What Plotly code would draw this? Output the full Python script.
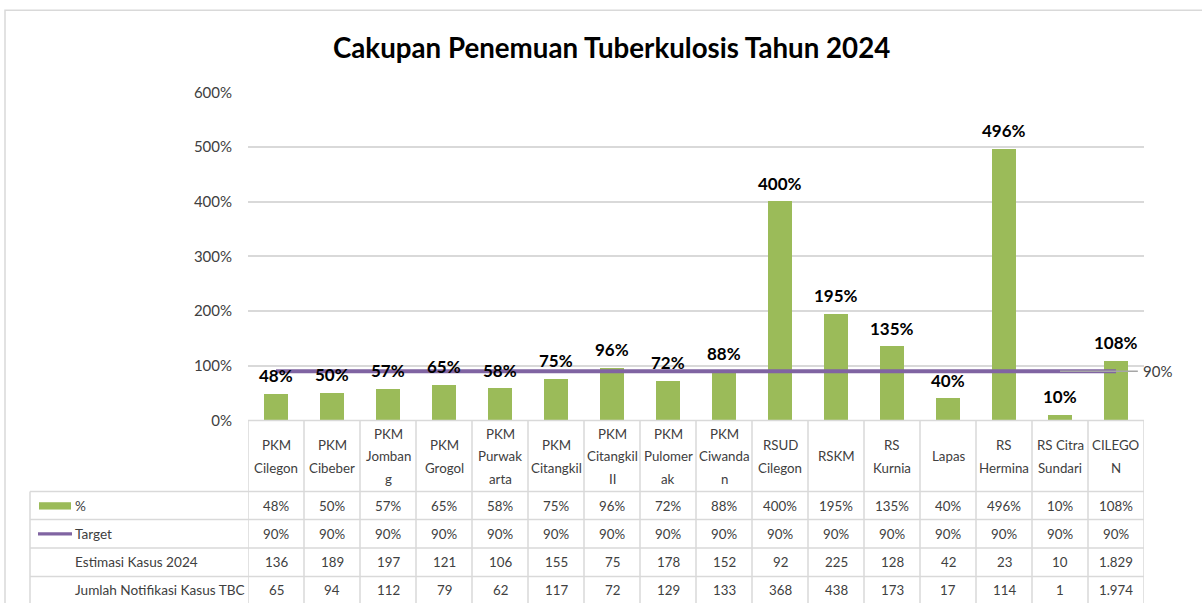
import plotly.graph_objects as go

# ---------------- data ----------------
categories = [
    ["PKM", "Cilegon"], ["PKM", "Cibeber"], ["PKM", "Jomban", "g"], ["PKM", "Grogol"],
    ["PKM", "Purwak", "arta"], ["PKM", "Citangkil"], ["PKM", "Citangkil", "II"],
    ["PKM", "Pulomer", "ak"], ["PKM", "Ciwanda", "n"], ["RSUD", "Cilegon"], ["RSKM"],
    ["RS", "Kurnia"], ["Lapas"], ["RS", "Hermina"], ["RS Citra", "Sundari"], ["CILEGO", "N"],
]
percent = [0.48, 0.50, 0.57, 0.65, 0.58, 0.75, 0.96, 0.72, 0.88, 4.00, 1.95, 1.35, 0.40, 4.96, 0.10, 1.08]
target = [0.90] * 16
estimasi = [136, 189, 197, 121, 106, 155, 75, 178, 152, 92, 225, 128, 42, 23, 10, 1829]
notifikasi = [65, 94, 112, 79, 62, 117, 72, 129, 133, 368, 438, 173, 17, 114, 1, 1974]
row_labels = ["%", "Target", "Estimasi Kasus 2024", "Jumlah Notifikasi Kasus TBC"]
title = "Cakupan Penemuan Tuberkulosis Tahun 2024"

# ---------------- layout helpers ----------------
W, H = 1202, 603
FONT = "Lato, Roboto, sans-serif"
GRID = "#D9D9D9"
TXT = "#404040"
GREEN = "#9BBB59"
PURPLE = "#8064A2"

# vertical calibration of the photographed page (measured offset/scale)
V_OFF, V_SCALE = 9.8, 0.9695


def px(x):
    return x / W


def py(y):
    return 1 - ((y - V_OFF) / V_SCALE) / H


X0, X1 = 248, 1144
Y_TOP, Y_ZERO = 92, 420
row_edges = [491, 519, 547.5, 576]


def fmt_int(v):
    return f"{v:,}".replace(",", ".")


n = len(percent)
xs = list(range(n))

fig = go.Figure()
fig.add_trace(go.Bar(x=xs, y=percent, width=0.42, marker=dict(color=GREEN, line=dict(width=0)),
                     hoverinfo="skip"))
fig.add_trace(go.Scatter(x=xs, y=target, mode="lines", line=dict(color=PURPLE, width=4),
                         hoverinfo="skip"))

shapes = []
annotations = []

# outer chart border
shapes.append(dict(type="rect", xref="paper", yref="paper", x0=px(5), x1=1.02, y0=-0.05, y1=py(10),
                   line=dict(color=GRID, width=1.5)))

# table horizontal lines
shapes.append(dict(type="line", xref="paper", yref="paper", x0=px(X0), x1=px(X1), y0=py(Y_ZERO), y1=py(Y_ZERO),
                   line=dict(color=GRID, width=1.5)))
for ye in row_edges:
    shapes.append(dict(type="line", xref="paper", yref="paper", x0=px(30), x1=px(X1), y0=py(ye), y1=py(ye),
                       line=dict(color=GRID, width=1.5)))
# left vertical border of legend column
shapes.append(dict(type="line", xref="paper", yref="paper", x0=px(30), x1=px(30), y0=py(row_edges[0]), y1=-0.05,
                   line=dict(color=GRID, width=1.5)))
# category vertical lines
for k in range(n + 1):
    shapes.append(dict(type="line", xref="x", yref="paper", x0=k - 0.5, x1=k - 0.5, y0=py(Y_ZERO), y1=-0.05,
                       line=dict(color=GRID, width=1.5)))

# legend keys in table
shapes.append(dict(type="rect", xref="paper", yref="paper", x0=px(39), x1=px(71), y0=py(509), y1=py(501.7),
                   line=dict(width=0), fillcolor=GREEN))
shapes.append(dict(type="line", xref="paper", yref="paper", x0=px(38), x1=px(72), y0=py(533.3), y1=py(533.3),
                   line=dict(color=PURPLE, width=3.2)))

# leader line for target label
shapes.append(dict(type="line", xref="x", yref="y", x0=14.0, x1=15.39, y0=target[-1], y1=target[-1],
                   line=dict(color="#A6A6A6", width=1.5)))
annotations.append(dict(text=f"{round(target[-1]*100)}%", xref="paper", yref="y", x=px(1141), y=target[-1],
                        xanchor="left", yanchor="middle", showarrow=False,
                        font=dict(family=FONT, size=15, color=TXT)))

# bar data labels
for i, v in enumerate(percent):
    annotations.append(dict(text=f"<b>{round(v*100)}%</b>", xref="x", yref="y", x=i, y=v,
                            xanchor="center", yanchor="middle", yshift=18.5, showarrow=False,
                            font=dict(family=FONT, size=17, color="#000000")))

# header category labels
for i, lines in enumerate(categories):
    m = len(lines)
    for j, line in enumerate(lines):
        yc = 456 + (j - (m - 1) / 2) * 22
        annotations.append(dict(text=line, xref="x", yref="paper", x=i, y=py(yc),
                                xanchor="center", yanchor="middle", showarrow=False,
                                font=dict(family=FONT, size=13.3, color=TXT)))

# table rows
rows = [
    [f"{round(v*100)}%" for v in percent],
    [f"{round(v*100)}%" for v in target],
    [fmt_int(v) for v in estimasi],
    [fmt_int(v) for v in notifikasi],
]
row_centers = [505, 533, 561.5, 589.5]
for r, vals in enumerate(rows):
    yc = row_centers[r]
    for i, t in enumerate(vals):
        annotations.append(dict(text=t, xref="x", yref="paper", x=i, y=py(yc),
                                xanchor="center", yanchor="middle", showarrow=False,
                                font=dict(family=FONT, size=13.3, color=TXT)))
    annotations.append(dict(text=row_labels[r], xref="paper", yref="paper",
                            x=px(73), y=py(yc), xanchor="left", yanchor="middle",
                            showarrow=False, font=dict(family=FONT, size=13.6, color=TXT)))

# title
annotations.append(dict(text=f"<b>{title}</b>", xref="paper", yref="paper", x=px(611), y=py(47),
                        xanchor="center", yanchor="middle", showarrow=False,
                        font=dict(family=FONT, size=27.7, color="#000000")))

fig.update_layout(
    width=W, height=H,
    margin=dict(l=0, r=0, t=0, b=0),
    paper_bgcolor="white", plot_bgcolor="white",
    showlegend=False,
    bargap=0,
    shapes=shapes,
    annotations=annotations,
    xaxis=dict(domain=[px(X0), px(X1)], range=[-0.5, n - 0.5], showticklabels=False,
               showgrid=False, zeroline=False, showline=False, ticks="", fixedrange=True),
    yaxis=dict(domain=[py(Y_ZERO), py(Y_TOP)], range=[0, 6], tickvals=[0, 1, 2, 3, 4, 5, 6],
               tickformat=".0%", showgrid=True, gridcolor=GRID, gridwidth=1.5,
               zeroline=False, showline=False, ticks="", ticklabelstandoff=15,
               tickfont=dict(family=FONT, size=15, color=TXT), fixedrange=True),
)

post = (
    "document.documentElement.style.margin='0';"
    "document.documentElement.style.overflow='hidden';"
    "document.body.style.margin='0';"
    "document.body.style.overflow='hidden';"
)
fig.write_html("out.html", config={"displayModeBar": False}, post_script=post)
